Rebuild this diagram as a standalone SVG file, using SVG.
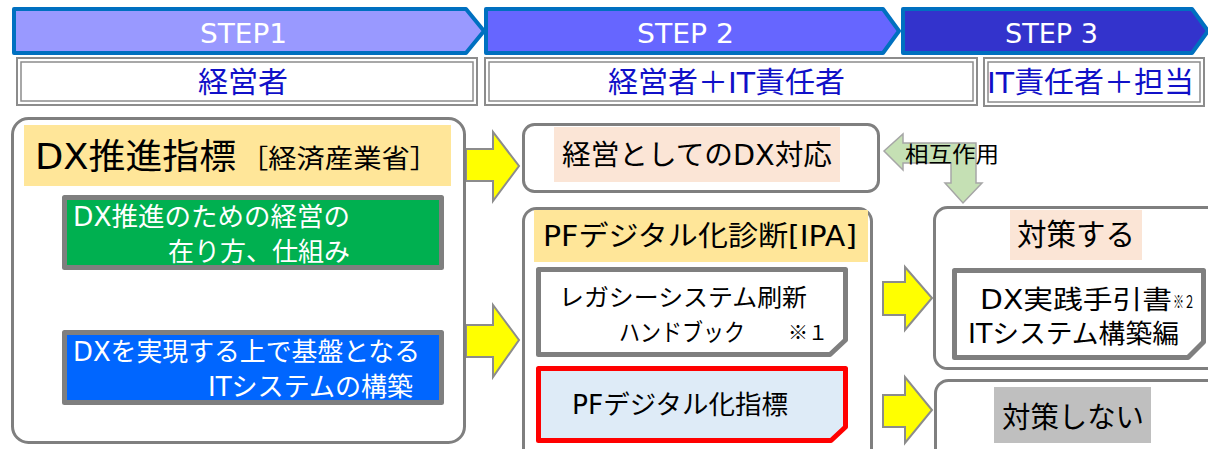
<svg xmlns="http://www.w3.org/2000/svg" width="1208" height="449" viewBox="0 0 1208 449">
<style>
text{font-family:"DejaVu Sans","Noto Sans CJK JP",sans-serif;}
.note{font-family:"Noto Sans CJK JP",sans-serif;}
.step{fill:#fff;font-size:27px;}
.role{fill:#1010C8;font-size:29px;}
.blk{fill:#000;}
.wht{fill:#fff;}
.chev{stroke:#0070C0;stroke-width:4;stroke-linejoin:round;}
.dbl{fill:none;stroke:#8C8C8C;}
.gbox{fill:#fff;stroke:#7F7F7F;stroke-width:3;}
.thick{stroke:#7F7F7F;stroke-width:5;stroke-linejoin:round;}
.yarrow{fill:#FFFF00;stroke:#8C8C8C;stroke-width:2;stroke-linejoin:miter;}
</style>
<rect width="1208" height="449" fill="#fff"/>

<g id="step1">
<polygon class="chev" fill="#9999FF" points="14,9 466,9 484,31 466,53 14,53"/>
<text class="step" x="200" y="43" textLength="87" lengthAdjust="spacingAndGlyphs">STEP1</text>
</g>
<g id="step2">
<polygon class="chev" fill="#6666FF" points="486,9 883,9 899,31 883,53 486,53"/>
<text class="step" x="637" y="43" textLength="97" lengthAdjust="spacingAndGlyphs">STEP 2</text>
</g>
<g id="step3">
<polygon class="chev" fill="#3333CC" points="903,9 1192,9 1208,31 1192,53 903,53"/>
<text class="step" x="1005" y="43" textLength="93" lengthAdjust="spacingAndGlyphs">STEP 3</text>
</g>

<g id="role1">
<rect class="dbl" x="17" y="58" width="460" height="47" stroke-width="2"/>
<rect class="dbl" x="21" y="62" width="452" height="39" stroke-width="1.5"/>
<text class="role" x="198" y="93" textLength="90" lengthAdjust="spacingAndGlyphs">経営者</text>
</g>
<g id="role2">
<rect class="dbl" x="485" y="58" width="492" height="47" stroke-width="2"/>
<rect class="dbl" x="489" y="62" width="484" height="39" stroke-width="1.5"/>
<text class="role" x="608" y="93" textLength="237" lengthAdjust="spacingAndGlyphs">経営者＋IT責任者</text>
</g>
<g id="role3">
<rect class="dbl" x="984" y="58" width="220" height="48" stroke-width="2"/>
<rect class="dbl" x="988" y="62" width="212" height="40" stroke-width="1.5"/>
<text class="role" x="987" y="93" textLength="207" lengthAdjust="spacingAndGlyphs">IT責任者＋担当</text>
</g>

<g id="connectors">
<polygon class="yarrow" points="466,149 493,149 493,132 519,166 493,201 493,181 466,181"/>
<polygon class="yarrow" points="466,325 493,325 493,305 519,340 493,377 493,357 466,357"/>
<polygon class="yarrow" points="883,282 905,282 905,267 932,298 905,330 905,315 883,315"/>
<polygon class="yarrow" points="883,395 905,395 905,377 932,410 905,443 905,427 883,427"/>
<polygon fill="#C5E0B4" stroke="#A6A6A6" stroke-width="1.5" stroke-linejoin="miter" points="884,151 903,134 903,143 976,143 976,183 982,183 963,203 945,183 951,183 951,163 903,163 903,170"/>
<text class="blk" x="905" y="162" font-size="22" textLength="94" lengthAdjust="spacingAndGlyphs">相互作用</text>
</g>

<g id="dx-index">
<rect class="gbox" x="12.5" y="118.5" width="452" height="324" rx="16"/>
<rect x="24" y="125" width="427" height="61" fill="#FFE699"/>
<text class="blk" x="35" y="169" font-size="35" textLength="201" lengthAdjust="spacingAndGlyphs">DX推進指標</text>
<text class="blk" x="240" y="168" font-size="26" textLength="198" lengthAdjust="spacingAndGlyphs">［経済産業省］</text>
</g>
<g id="dx-management">
<rect class="thick" x="64.5" y="197.5" width="377" height="70" fill="#00B050"/>
<text class="wht" x="73" y="226" font-size="26" textLength="277" lengthAdjust="spacingAndGlyphs">DX推進のための経営の</text>
<text class="wht" x="350" y="261" font-size="26" text-anchor="end" textLength="182" lengthAdjust="spacingAndGlyphs">在り方、仕組み</text>
</g>
<g id="dx-it-system">
<rect class="thick" x="64.5" y="332.5" width="377" height="70" fill="#0066FF"/>
<text class="wht" x="73" y="361" font-size="26" textLength="347" lengthAdjust="spacingAndGlyphs">DXを実現する上で基盤となる</text>
<text class="wht" x="208" y="396" font-size="26" textLength="205" lengthAdjust="spacingAndGlyphs">ITシステムの構築</text>
</g>

<g id="management-dx">
<rect class="gbox" x="523.5" y="124.5" width="355" height="67" rx="11"/>
<rect x="554" y="127" width="286" height="55" fill="#FBE5D6"/>
<text class="blk" x="562" y="165" font-size="28" textLength="270" lengthAdjust="spacingAndGlyphs">経営としてのDX対応</text>
</g>

<g id="pf-diagnosis">
<rect class="gbox" x="523.5" y="208.5" width="348" height="270" rx="13"/>
<rect x="534" y="210" width="334" height="52" fill="#FFE699"/>
<text class="blk" x="543" y="246" font-size="28" textLength="314" lengthAdjust="spacingAndGlyphs">PFデジタル化診断[IPA]</text>
</g>
<g id="legacy-handbook">
<path class="thick" fill="#fff" d="M538.5,269.5 H845.5 V340 L830,354.5 H538.5 Z"/>
<text class="blk" x="559" y="306" font-size="24" textLength="248" lengthAdjust="spacingAndGlyphs">レガシーシステム刷新</text>
<text class="blk" x="619" y="341" font-size="24" textLength="126" lengthAdjust="spacingAndGlyphs">ハンドブック</text>
<text class="blk note" x="788" y="340" font-size="20" textLength="40" lengthAdjust="spacingAndGlyphs">※１</text>
</g>
<g id="pf-digital-index">
<path fill="#DEEBF7" stroke="#FF0000" stroke-width="5" stroke-linejoin="round" d="M538.5,368.5 H845.5 V427 L831,440.5 H538.5 Z"/>
<text class="blk" x="572" y="414" font-size="26" textLength="216" lengthAdjust="spacingAndGlyphs">PFデジタル化指標</text>
</g>

<g id="countermeasure">
<rect class="gbox" x="934.5" y="207.5" width="300" height="161" rx="13"/>
<rect x="1010" y="210" width="132" height="50" fill="#FBE5D6"/>
<text class="blk" x="1017" y="245" font-size="30" textLength="118" lengthAdjust="spacingAndGlyphs">対策する</text>
</g>
<g id="dx-practice-guide">
<path class="thick" fill="#fff" d="M954.5,270.5 H1203.5 V342 L1188,357.5 H954.5 Z"/>
<text class="blk" x="980" y="309" font-size="26" textLength="192" lengthAdjust="spacingAndGlyphs">DX実践手引書</text>
<text class="blk note" x="1173" y="308" font-size="17" textLength="22" lengthAdjust="spacingAndGlyphs">※２</text>
<text class="blk" x="968" y="343" font-size="26" textLength="211" lengthAdjust="spacingAndGlyphs">ITシステム構築編</text>
</g>

<g id="no-countermeasure">
<rect class="gbox" x="935.5" y="380.5" width="300" height="100" rx="13"/>
<rect x="994" y="387" width="157" height="56" fill="#BFBFBF"/>
<text class="blk" x="1002" y="428" font-size="29" textLength="142" lengthAdjust="spacingAndGlyphs">対策しない</text>
</g>
</svg>
